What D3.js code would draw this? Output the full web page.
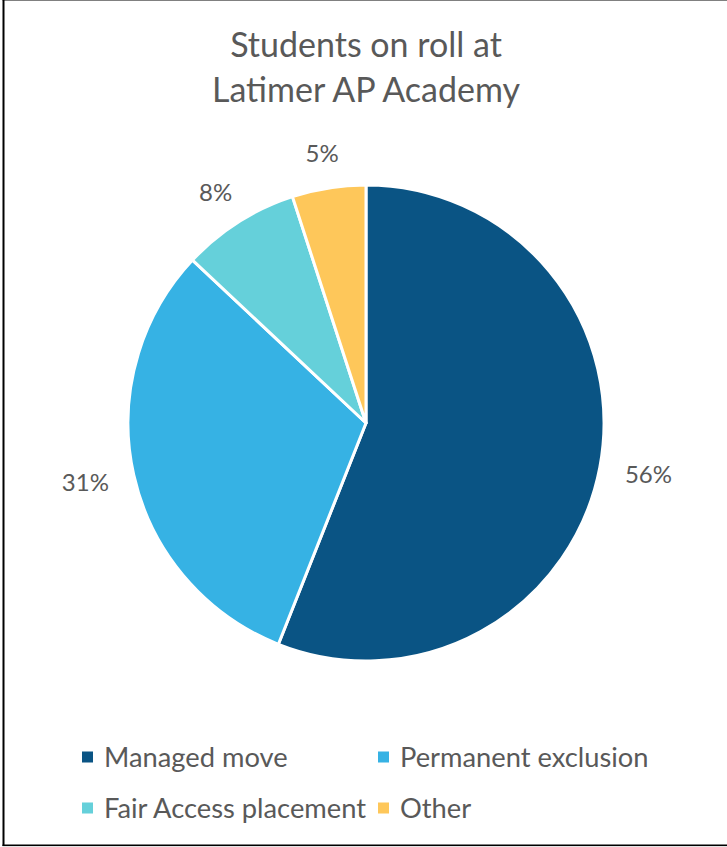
<!DOCTYPE html>
<html>
<head>
<meta charset="utf-8">
<script src="https://cdn.jsdelivr.net/npm/d3@7"></script>
<style>
  html, body { margin: 0; padding: 0; background: #fff; }
  svg { display: block; }
  text { font-family: Lato, "Open Sans", sans-serif; fill: #595959; }
</style>
</head>
<body>
<script>
const titleLines = ["Students on roll at", "Latimer AP Academy"];
const categories = ["Managed move", "Permanent exclusion", "Fair Access placement", "Other"];
const values = [56, 31, 8, 5];
const valueLabels = ["56%", "31%", "8%", "5%"];
const colors = ["#0a5484", "#36b2e4", "#65d0da", "#fec75a"];

const W = 727, H = 847;
const cx = 366, cy = 423, R = 238;

const svg = d3.select("body").append("svg").attr("width", W).attr("height", H);
svg.append("rect").attr("width", W).attr("height", H).attr("fill", "#fff");

// frame
svg.append("rect").attr("x", 2.5).attr("y", 0).attr("width", W).attr("height", 1).attr("fill", "#808080");
svg.append("rect").attr("x", 2.5).attr("y", 0).attr("width", 2).attr("height", 846).attr("fill", "#000");
svg.append("rect").attr("x", 2.5).attr("y", 844.5).attr("width", W).attr("height", 1.6).attr("fill", "#000");

// title
svg.append("g").selectAll("text").data(titleLines).join("text")
  .attr("x", 366)
  .attr("y", (d, i) => 57 + i * 45)
  .attr("text-anchor", "middle")
  .attr("font-size", 34)
  .text(d => d);

// pie
const data = categories.map((c, i) => ({ cat: c, value: values[i], label: valueLabels[i], color: colors[i] }));
const pie = d3.pie().value(d => d.value).sort(null);
const arcs = pie(data);
const arc = d3.arc().innerRadius(0).outerRadius(R);

const g = svg.append("g").attr("transform", `translate(${cx},${cy})`);
g.selectAll("path").data(arcs).join("path")
  .attr("d", arc)
  .attr("fill", d => d.data.color)
  .attr("stroke", "#fff")
  .attr("stroke-width", 3)
  .attr("stroke-linejoin", "round");

// labels: placed outside end, box offset along the bisector
const labelR = R + 26;
const lbl = g.selectAll("text.lbl").data(arcs).join("text")
  .attr("class", "lbl")
  .attr("font-size", 24)
  .text(d => d.data.label);
lbl.each(function(d) {
  const a = (d.startAngle + d.endAngle) / 2;
  const bb = this.getBBox();
  const w = bb.width, h = 17;
  const px = labelR * Math.sin(a), py = -labelR * Math.cos(a);
  const bx = px + (w / 2) * Math.sin(a);
  const by = py - (h / 2) * Math.cos(a);
  d3.select(this).attr("text-anchor", "middle").attr("x", bx).attr("y", by + h / 2);
});

// legend
const legendX = [82, 378], legendY = [757, 808];
const leg = svg.append("g").selectAll("g").data(data).join("g")
  .attr("transform", (d, i) => `translate(${legendX[i % 2]},${legendY[Math.floor(i / 2)]})`);
leg.append("rect").attr("x", 0).attr("y", -5.5).attr("width", 11).attr("height", 11).attr("fill", d => d.color);
leg.append("text").attr("x", 22).attr("y", 9.5).attr("font-size", 27.3).text(d => d.cat);
</script>
</body>
</html>
